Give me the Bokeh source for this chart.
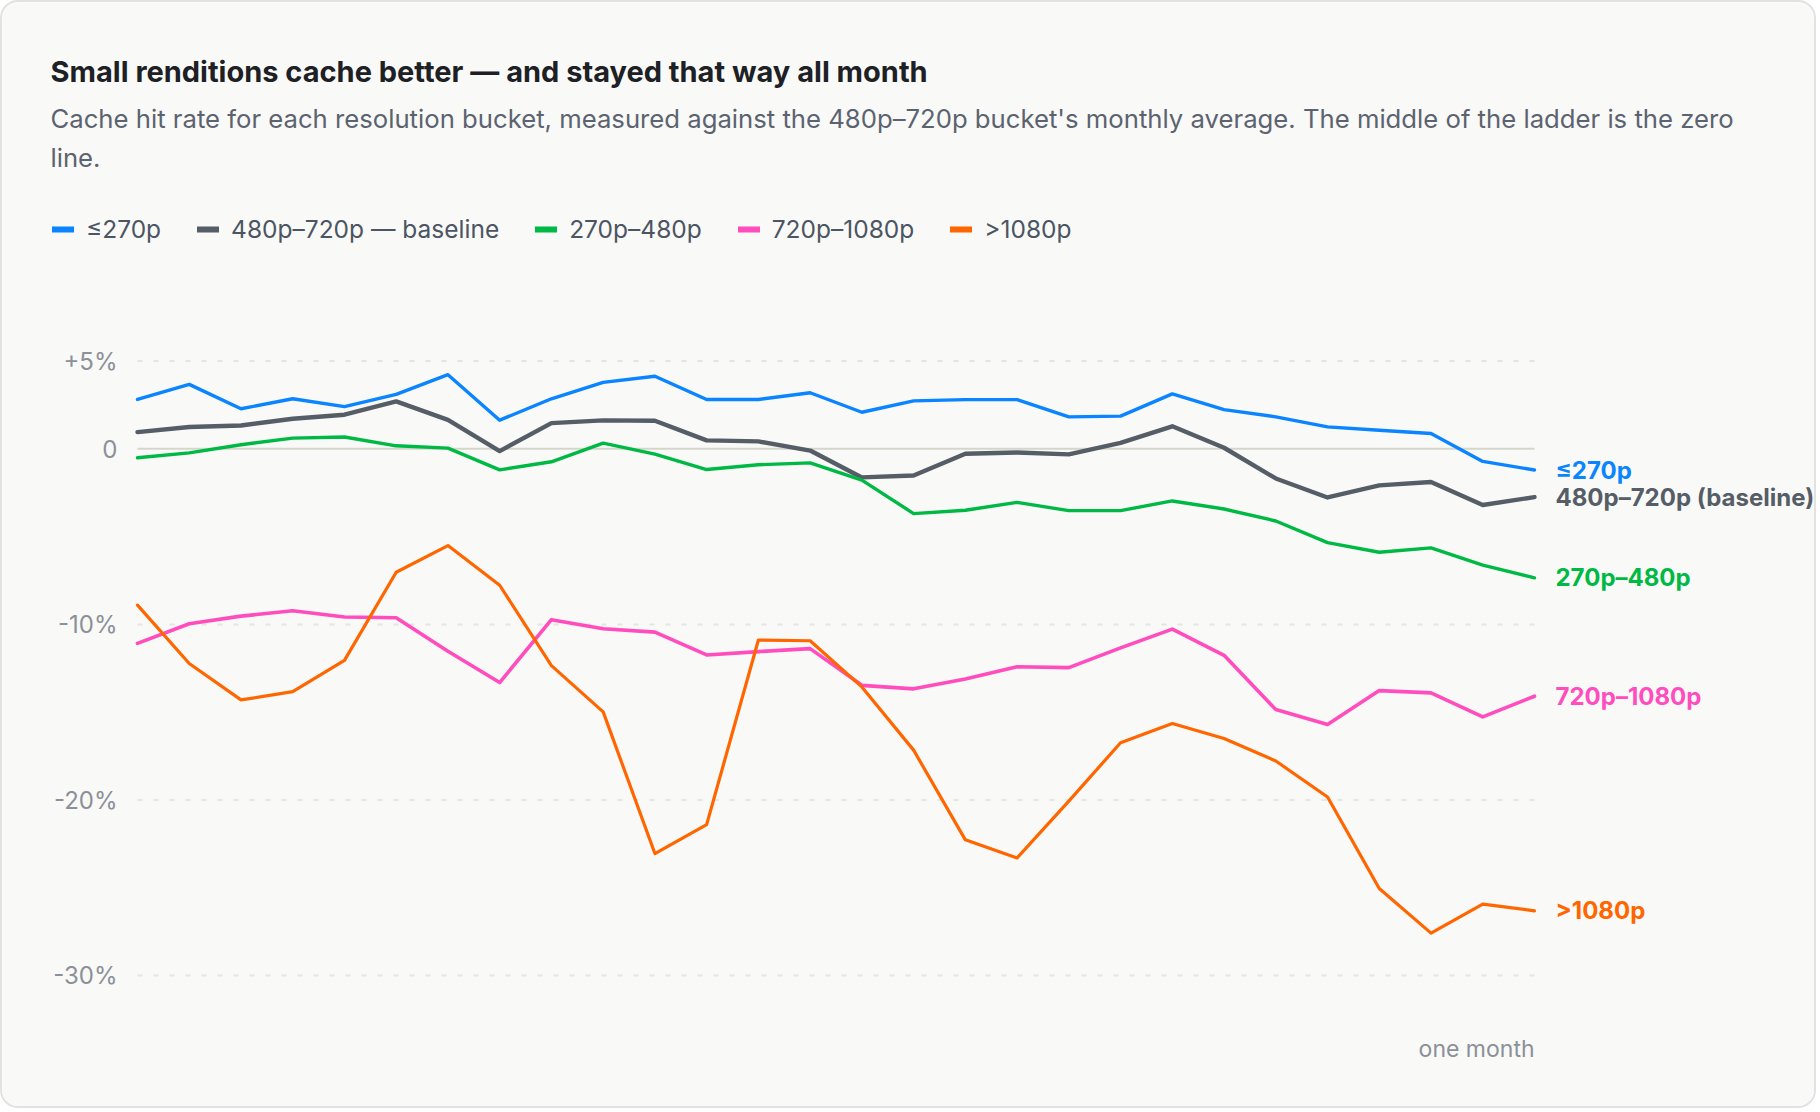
from bokeh.plotting import figure
from bokeh.models import Range1d, Label, LabelSet, Legend, LegendItem, ColumnDataSource
from bokeh.core.properties import value
from bokeh.embed import file_html
from bokeh.resources import INLINE

# ---------------- data ----------------
days = list(range(1, 29))

le270 = [2.81, 3.67, 2.28, 2.85, 2.40, 3.10, 4.22, 1.63, 2.85, 3.78, 4.13, 2.81, 2.81, 3.19,
         2.08, 2.73, 2.80, 2.80, 1.82, 1.86, 3.13, 2.23, 1.82, 1.25, 1.06, 0.87, -0.72, -1.21]
p480_720 = [0.95, 1.24, 1.33, 1.71, 1.94, 2.70, 1.65, -0.13, 1.46, 1.62, 1.60, 0.48, 0.42, -0.10,
            -1.63, -1.52, -0.28, -0.21, -0.32, 0.34, 1.28, 0.06, -1.69, -2.77, -2.08, -1.89, -3.20, -2.75]
p270_480 = [-0.51, -0.23, 0.23, 0.61, 0.67, 0.17, 0.04, -1.20, -0.74, 0.32, -0.30, -1.18, -0.91, -0.80,
            -1.78, -3.69, -3.50, -3.05, -3.52, -3.52, -2.97, -3.43, -4.11, -5.34, -5.89, -5.64, -6.63, -7.35]
p720_1080 = [-11.08, -9.96, -9.53, -9.22, -9.58, -9.62, -11.53, -13.31, -9.73, -10.25, -10.44, -11.74, -11.55, -11.38,
             -13.47, -13.67, -13.11, -12.41, -12.46, -11.34, -10.27, -11.76, -14.85, -15.70, -13.77, -13.90, -15.27, -14.09]
gt1080 = [-8.90, -12.23, -14.30, -13.83, -12.05, -7.03, -5.51, -7.77, -12.35, -14.98, -23.05, -21.40, -10.89, -10.93,
          -13.56, -17.16, -22.27, -23.30, -20.06, -16.74, -15.64, -16.50, -17.78, -19.83, -25.04, -27.58, -25.93, -26.31]

series_values = [le270, p480_720, p270_480, p720_1080, gt1080]
legend_names = ["≤270p", "480p–720p — baseline", "270p–480p", "720p–1080p", ">1080p"]
end_names = ["≤270p", "480p–720p (baseline)", "270p–480p", "720p–1080p", ">1080p"]
colors = ["#0a84ff", "#555d67", "#00b944", "#ff4dbe", "#ff6600"]

y_ticks = [5, 0, -10, -20, -30]
y_tick_labels = ["+5%", "0", "-10%", "-20%", "-30%"]
grid_ticks = [5, -10, -20, -30]
zero_line = [0]

title_text = "Small renditions cache better — and stayed that way all month"
subtitle_1 = ("Cache hit rate for each resolution bucket, measured against the 480p–720p bucket's "
              "monthly average. The middle of the ladder is the zero")
subtitle_2 = "line."
x_note = "one month"

# ---------------- styles / layout (pixels) ----------------
FONT = "Inter"
BG = "#f9f9f7"
widths = [3.4, 4.4, 3.4, 3.6, 3.2]
FIG_W, FIG_H = 1816, 1108
X_FIRST, X_LAST = 135, 1532      # pixel column of first / last day
Y_ZERO, PX_PER_PCT = 446.3, 17.56

px_per_day = (X_LAST - X_FIRST) / (days[-1] - days[0])
x_range = Range1d(days[0] - X_FIRST / px_per_day, days[-1] + (FIG_W - X_LAST) / px_per_day)
y_range = Range1d(-(FIG_H - Y_ZERO) / PX_PER_PCT, Y_ZERO / PX_PER_PCT)

p = figure(width=FIG_W, height=FIG_H, output_backend="svg", toolbar_location=None, title=None,
           x_range=x_range, y_range=y_range, x_axis_location=None, y_axis_location=None,
           min_border=0, background_fill_color=BG, border_fill_color=BG)
p.outline_line_color = None
p.grid.visible = False
p.styles = {"border-radius": "18px", "border": "2px solid #e2e2e2", "overflow": "hidden"}

def sy(y_from_top):
    return FIG_H - y_from_top

# grid lines and zero line, spanning the data's x extent
p.segment(x0=[days[0]] * len(grid_ticks), x1=[days[-1]] * len(grid_ticks),
          y0=grid_ticks, y1=grid_ticks, line_color="#e4e4e2", line_width=2, line_dash="5 11")
p.segment(x0=[days[0]], x1=[days[-1]], y0=zero_line, y1=zero_line,
          line_color="#d5d6cb", line_width=2)

# y tick labels
p.text(x=[days[0]] * len(y_ticks), y=y_ticks, text=y_tick_labels, x_offset=-20,
       text_align="right", text_baseline="middle", text_font=value(FONT),
       text_font_size="24px", text_color="#8b9099")

# series
for vals, c, w in zip(series_values, colors, widths):
    p.line(days, vals, line_color=c, line_width=w, line_join="round", line_cap="round")

# legend
items = []
for name, c in zip(legend_names, colors):
    r = p.line([float("nan")], [float("nan")], line_color=c, line_width=6, line_cap="round")
    items.append(LegendItem(label=name, renderers=[r]))
leg = Legend(items=items, orientation="horizontal", location=(50, sy(242)),
             glyph_width=22, glyph_height=20, label_height=20, label_standoff=12, spacing=36,
             padding=0, margin=0, border_line_color=None, background_fill_alpha=0,
             label_text_font=FONT, label_text_font_size="24.5px", label_text_color="#4b5563")
p.add_layout(leg, "center")

# end labels
src = ColumnDataSource(dict(x=[days[-1]] * len(series_values),
                            y=[v[-1] for v in series_values],
                            text=end_names, color=colors))
p.add_layout(LabelSet(x="x", y="y", text="text", source=src, x_offset=21,
                      text_color="color", text_font=value(FONT), text_font_size="24px",
                      text_font_style="bold", text_baseline="middle", text_align="left"))

# titles and notes
p.add_layout(Label(x=48, y=sy(69), x_units="screen", y_units="screen", text=title_text,
                   text_font=FONT, text_font_size="29px", text_font_style="bold",
                   text_color="#1d2024", text_baseline="middle"))
p.add_layout(Label(x=48, y=sy(116), x_units="screen", y_units="screen", text=subtitle_1,
                   text_font=FONT, text_font_size="25.7px", text_color="#5c6370",
                   text_baseline="middle"))
p.add_layout(Label(x=48, y=sy(155), x_units="screen", y_units="screen", text=subtitle_2,
                   text_font=FONT, text_font_size="25.7px", text_color="#5c6370",
                   text_baseline="middle"))
p.add_layout(Label(x=days[-1], y=sy(1046), x_units="data", y_units="screen", text=x_note,
                   text_font=FONT, text_font_size="23px", text_color="#8b9099",
                   text_baseline="middle", text_align="right"))

open("out.html", "w").write(file_html(p, INLINE))
